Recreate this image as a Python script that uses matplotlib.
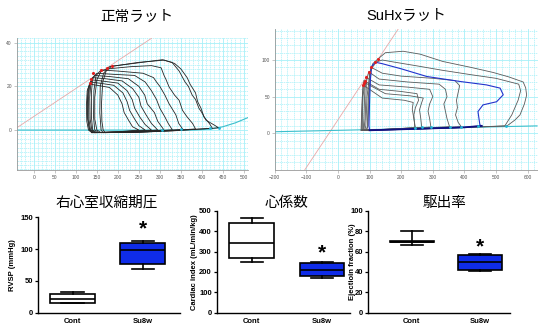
import matplotlib.pyplot as plt
import numpy as np

plt.rcParams['font.family'] = ['Liberation Sans', 'Noto Sans CJK JP', 'DejaVu Sans']

# ---- PV loops, normal rat (volume, pressure) ----
normal_V = [
    [170, 250, 330, 400, 440, 432, 410, 400, 393, 385, 377, 368, 360, 346, 329, 306, 250, 185, 172, 164, 161, 162, 165, 170],
    [165, 250, 330, 425, 418, 405, 398, 390, 385, 372, 365, 350, 335, 310, 250, 180, 166, 158, 157, 160, 165],
    [160, 250, 330, 385, 378, 365, 354, 346, 335, 322, 315, 310, 303, 280, 230, 175, 160, 150, 145, 145, 150, 160],
    [155, 250, 355, 345, 338, 322, 312, 300, 292, 285, 260, 200, 160, 148, 143, 142, 145, 155],
    [150, 250, 330, 320, 312, 300, 292, 280, 265, 240, 190, 150, 140, 137, 137, 140, 150],
    [147, 240, 310, 295, 287, 270, 264, 250, 225, 180, 145, 136, 133, 134, 138, 147],
    [145, 230, 295, 280, 267, 255, 250, 235, 210, 170, 140, 133, 130, 131, 135, 145],
    [143, 220, 280, 265, 252, 240, 234, 222, 200, 160, 137, 131, 128, 129, 133, 143],
    [140, 210, 265, 250, 240, 228, 222, 212, 190, 155, 135, 129, 127, 128, 132, 140],
    [138, 200, 250, 235, 227, 215, 210, 200, 180, 150, 133, 127, 125, 126, 130, 138],
]
normal_P = [
    [-1.2, -1, -0.4, 0.5, 1, 2, 4.5, 8, 10, 14, 16, 20, 22, 27, 31, 32.2, 30.8, 29.2, 27, 22, 12, 4, 0, -1.2],
    [-1.2, -1, -0.3, 0.8, 3, 6, 10, 13, 17, 21, 24, 28, 30.5, 32, 31, 29, 26, 20, 8, 0, -1.2],
    [-1.2, -1, -0.2, 0.5, 3, 6, 9, 13.6, 16, 19.7, 23, 25, 28.5, 29.5, 29, 28, 27, 23, 15, 5, 0, -1.2],
    [-1.2, -0.8, 0.3, 3, 7, 12, 16, 20, 22, 24, 26, 27, 27.5, 25, 18, 6, 0, -1.2],
    [-1.2, -0.7, 0, 3, 6, 10, 14, 18, 22, 25, 25.5, 26, 24, 17, 6, 0, -1.2],
    [-1.2, -0.8, 0, 4, 8, 12, 16, 20, 23.5, 24.5, 25, 22, 15, 5, 0, -1.2],
    [-1.2, -0.8, 0, 3, 7, 11, 15, 19, 22.5, 23.5, 24, 21, 14, 5, 0, -1.2],
    [-1.2, -0.8, 0, 2.5, 6, 10, 14, 18, 21.5, 22.5, 23, 20, 13, 5, 0, -1.2],
    [-1.2, -0.8, 0, 2, 5, 9, 13, 17, 20.5, 21.5, 22, 19, 12, 5, 0, -1.2],
    [-1.2, -0.8, 0, 1.5, 4, 8, 12, 16, 19.5, 20.5, 21, 18, 11, 4, 0, -1.2],
]
normal_es_V = [133, 136, 140, 160, 175, 185]
normal_es_P = [21.5, 23.5, 26, 27.5, 28.5, 29.5]
normal_ed_V = [306, 350, 420, 440]
normal_ed_P = [0, 0.3, 0.8, 1]
normal_espvr_V = [-41, 280]
normal_espvr_P = [1, 42]
normal_edpvr_V = [-41, 380, 420, 450, 480, 510]
normal_edpvr_P = [0, 0, 0.4, 1.5, 3.3, 5.7]

# ---- PV loops, SuHx rat ----
suhx_V = [
    [90, 200, 350, 450, 535, 560, 576, 590, 597, 594, 586, 540, 491, 420, 332, 260, 206, 150, 128, 110, 100, 95, 93, 90],
    [90, 250, 528, 550, 570, 578, 572, 500, 420, 330, 250, 180, 140, 120, 105, 98, 95, 90],
    [85, 250, 390, 380, 372, 378, 375, 380, 385, 370, 300, 200, 140, 105, 100, 92, 88, 85],
    [82, 200, 353, 345, 340, 335, 345, 340, 320, 220, 130, 97, 90, 86, 82],
    [80, 200, 294, 290, 285, 290, 300, 290, 220, 130, 90, 85, 82, 80],
    [77, 160, 265, 262, 258, 265, 270, 230, 150, 85, 79, 77, 77],
    [75, 160, 243, 240, 245, 255, 250, 200, 130, 82, 77, 75],
    [73, 150, 245, 240, 235, 238, 210, 140, 79, 75, 73],
]
suhx_P = [
    [4, 5, 7, 8.5, 10, 18, 25, 40, 52, 62, 70, 77, 83, 90, 98, 108, 112, 110, 102, 95, 80, 40, 10, 4],
    [4, 5.5, 10, 25, 45, 58, 67, 75, 80, 86, 92, 97, 100, 97, 88, 50, 10, 4],
    [4, 6, 9, 15, 25, 35, 45, 55, 65, 72, 75, 78, 82, 90, 80, 50, 10, 4],
    [4, 5.5, 9, 20, 30, 40, 50, 60, 67, 70, 74, 84, 70, 20, 4],
    [4, 6, 8.5, 20, 30, 40, 50, 60, 63, 66, 76, 60, 20, 4],
    [4, 5.5, 8, 20, 32, 42, 48, 51, 54, 69, 50, 20, 4],
    [4, 5.5, 7.5, 25, 35, 45, 54, 57, 60, 72, 50, 4],
    [4, 5, 7.5, 20, 33, 42, 45, 48, 66, 30, 4],
]
suhx_blue_V = [100, 250, 400, 455, 449, 443, 459, 502, 523, 513, 470, 386, 281, 200, 140, 118, 106, 102, 100, 98, 100]
suhx_blue_P = [4, 6, 8, 10, 11.4, 29.6, 38.7, 43, 52.5, 61.6, 66, 70.7, 77.5, 88, 95, 97, 91, 70, 45, 10, 4]
suhx_es_V = [79, 82, 85, 90, 97, 105, 118, 128]
suhx_es_P = [66, 69, 72, 77, 84, 90, 97, 102]
suhx_ed_V = [243, 265, 294, 353, 389, 443, 532]
suhx_ed_P = [7.5, 8, 8.5, 9, 9, 10, 10]
suhx_espvr_V = [-105, 190]
suhx_espvr_P = [-50, 142]
suhx_edpvr_V = [-200, 630]
suhx_edpvr_P = [2, 10]

# ---- box plot summaries: whisker low, q1, median, q3, whisker high ----
groups = ['Cont', 'Su8w']
rvsp_stats = [[15, 16, 21, 30, 32], [69, 76.5, 98.5, 110, 113]]
ci_stats = [[250, 268, 340, 438, 465], [172, 178, 211, 245, 248]]
ef_stats = [[66, 69.2, 69.7, 70.2, 80.5], [41, 42, 49.5, 56.5, 57.5]]
star_y = [132, 291, 64.7]

fig = plt.figure(figsize=(5.38, 3.28), dpi=100)

grid_c = '#a6f0f8'


def pv_axes(rect, xlim, ylim, xmaj, xmin, ymaj, ymin):
    ax = fig.add_axes(rect)
    ax.set_xlim(*xlim)
    ax.set_ylim(*ylim)
    ax.set_xticks(xmaj)
    ax.set_xticks(xmin, minor=True)
    ax.set_yticks(ymaj)
    ax.set_yticks(ymin, minor=True)
    ax.grid(which='major', color=grid_c, lw=0.6)
    ax.grid(which='minor', color=grid_c, lw=0.5, ls=(0, (2, 1)))
    ax.set_axisbelow(True)
    for s in ['top', 'right']:
        ax.spines[s].set_visible(False)
    for s in ['left', 'bottom']:
        ax.spines[s].set_color('#999999')
        ax.spines[s].set_linewidth(0.6)
    ax.tick_params(which='major', labelsize=3.5, labelcolor='#555555', length=2,
                   width=0.4, color='#999999', pad=1.5)
    ax.tick_params(which='minor', length=0)
    return ax


ax1 = pv_axes([0.031, 0.4817, 0.43, 0.4015], (-41, 510), (-18.3, 42),
              np.arange(0, 501, 50), np.arange(-40, 511, 10),
              [0, 20, 40], np.arange(-18, 43, 2))
ax1.plot(normal_espvr_V, normal_espvr_P, color='#e8a8a8', lw=0.6)
ax1.plot(normal_edpvr_V, normal_edpvr_P, color='#3cbfcc', lw=0.8)
for v, p in zip(normal_V, normal_P):
    ax1.plot(v, p, color='#262626', lw=0.6)
ax1.scatter(normal_es_V, normal_es_P, s=5, color='#e02020', zorder=5, lw=0)
ax1.scatter(normal_ed_V, normal_ed_P, s=4, color='#20b8d8', zorder=5, lw=0)

ax2 = pv_axes([0.5108, 0.4817, 0.4892, 0.429], (-200, 633), (-50.3, 142),
              np.arange(-200, 601, 100), np.arange(-200, 633, 20),
              [0, 50, 100], np.arange(-50, 142, 10))
ax2.plot(suhx_espvr_V, suhx_espvr_P, color='#e8a8a8', lw=0.6)
ax2.plot(suhx_edpvr_V, suhx_edpvr_P, color='#3cbfcc', lw=0.8)
for v, p in zip(suhx_V, suhx_P):
    ax2.plot(v, p, color='#5a5a5a', lw=0.6)
ax2.plot(suhx_blue_V, suhx_blue_P, color='#2233cc', lw=0.8)
ax2.plot(suhx_blue_V[:4], suhx_blue_P[:4], color='#101080', lw=1.3)
ax2.scatter(suhx_es_V, suhx_es_P, s=5, color='#e02020', zorder=5, lw=0)
ax2.scatter(suhx_ed_V, suhx_ed_P, s=4, color='#20b8d8', zorder=5, lw=0)

fig.text(136.7 / 538, 1 - 17 / 328, '正常ラット', fontsize=10.5, ha='center', va='center')
fig.text(406 / 538, 1 - 16 / 328, 'SuHxラット', fontsize=10.5, ha='center', va='center')

# ---- box plots ----
box_specs = [
    ([0.0712, 0.0466, 0.2634, 0.291], (-0.49, 1.53), 150, [0, 50, 100, 150], rvsp_stats,
     'RVSP (mmHg)', -0.157, '右心室収縮期圧', 106.7),
    ([0.4028, 0.0466, 0.2478, 0.311], (-0.5, 1.40), 500, [0, 100, 200, 300, 400, 500], ci_stats,
     'Cardiac index (mL/min/kg)', -0.14, '心係数', 286.7),
    ([0.6846, 0.0466, 0.2634, 0.311], (-0.635, 1.44), 100, [0, 20, 40, 60, 80, 100], ef_stats,
     'Ejectioin fraction (%)', -0.085, '駆出率', 445),
]

for i, (rect, xl, ymax, yt, stats, ylab, ylx, title, tx) in enumerate(box_specs):
    ax = fig.add_axes(rect)
    bstats = [dict(whislo=s[0], q1=s[1], med=s[2], q3=s[3], whishi=s[4], label=g)
              for s, g in zip(stats, groups)]
    bp = ax.bxp(bstats, positions=[0, 1], widths=0.64, capwidths=0.32, showfliers=False,
                patch_artist=True,
                boxprops=dict(lw=1.2, edgecolor='black'),
                medianprops=dict(lw=1.2, color='black'),
                whiskerprops=dict(lw=1.2, color='black'),
                capprops=dict(lw=1.2, color='black'))
    bp['boxes'][0].set_facecolor('white')
    bp['boxes'][1].set_facecolor('#0f2ce8')
    ax.set_xlim(*xl)
    ax.set_ylim(0, ymax)
    ax.set_yticks(yt)
    for s in ['top', 'right']:
        ax.spines[s].set_visible(False)
    for s in ['left', 'bottom']:
        ax.spines[s].set_linewidth(1.0)
    ax.tick_params(axis='y', labelsize=5.5, length=2.5, width=0.9, pad=1)
    ax.tick_params(axis='x', labelsize=5.5, length=0, pad=3.5)
    for lab in ax.get_xticklabels() + ax.get_yticklabels():
        lab.set_fontweight('bold')
    ax.set_ylabel(ylab, fontsize=5.5, fontweight='bold')
    ax.yaxis.set_label_coords(ylx, 0.5)
    ax.text(1, star_y[i], '*', fontsize=15, fontweight='bold', ha='center', va='center')
    fig.text(tx / 538, 1 - 203 / 328, title, fontsize=10.5, ha='center', va='center')

fig.savefig('out.png', dpi=100)
